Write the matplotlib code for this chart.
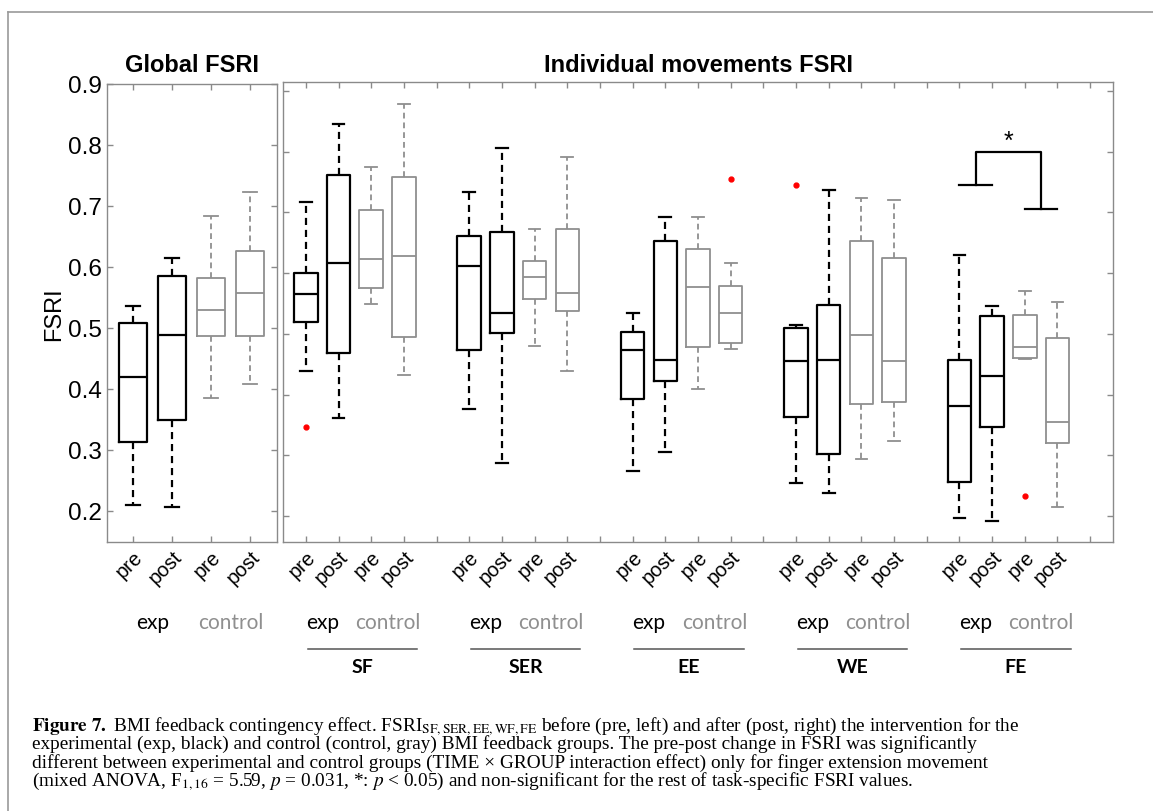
import matplotlib
matplotlib.use("Agg")
import matplotlib.pyplot as plt
from matplotlib.lines import Line2D
from matplotlib.transforms import blended_transform_factory

# Data (order inside a group: exp pre, exp post, control pre, control post)
global_lo = [0.210, 0.207, 0.385, 0.408]
global_q1 = [0.313, 0.349, 0.487, 0.487]
global_med = [0.420, 0.489, 0.530, 0.557]
global_q3 = [0.508, 0.585, 0.582, 0.626]
global_hi = [0.536, 0.615, 0.684, 0.723]

movements = ["SF", "SER", "EE", "WE", "FE"]
mov_lo = [0.439, 0.361, 0.549, 0.432,
          0.376, 0.287, 0.480, 0.439,
          0.274, 0.305, 0.409, 0.475,
          0.254, 0.238, 0.294, 0.323,
          0.197, 0.192, 0.458, 0.215]
mov_q1 = [0.519, 0.468, 0.575, 0.495,
          0.473, 0.501, 0.557, 0.538,
          0.393, 0.422, 0.478, 0.485,
          0.363, 0.302, 0.384, 0.388,
          0.256, 0.346, 0.460, 0.320]
mov_med = [0.566, 0.617, 0.623, 0.628,
           0.612, 0.534, 0.594, 0.567,
           0.473, 0.457, 0.577, 0.534,
           0.455, 0.457, 0.498, 0.455,
           0.381, 0.430, 0.478, 0.355]
mov_q3 = [0.600, 0.762, 0.704, 0.758,
          0.661, 0.668, 0.620, 0.673,
          0.503, 0.653, 0.640, 0.579,
          0.510, 0.547, 0.653, 0.625,
          0.457, 0.529, 0.531, 0.493]
mov_hi = [0.717, 0.846, 0.775, 0.879,
          0.734, 0.806, 0.673, 0.791,
          0.534, 0.692, 0.692, 0.617,
          0.514, 0.737, 0.724, 0.720,
          0.630, 0.546, 0.571, 0.552]
# outliers: (box index, value)
mov_outliers = [(0, 0.346), (11, 0.755), (12, 0.745), (18, 0.233)]

# significance bracket for FE: (left cap y, right cap y, top y)
sig_left, sig_right, sig_top = 0.745, 0.706, 0.800

tick_names = ["pre", "post", "pre", "post"]
group_names = ["exp", "control"]

caption_lines = [
    r"$\mathbf{Figure\ 7.}$ BMI feedback contingency effect. FSRI$_{\mathrm{SF,SER,EE,WF,FE}}$ before (pre, left) and after (post, right) the intervention for the",
    "experimental (exp, black) and control (control, gray) BMI feedback groups. The pre-post change in FSRI was significantly",
    "different between experimental and control groups (TIME \u00d7 GROUP interaction effect) only for finger extension movement",
    r"(mixed ANOVA, F$_{1,16}$ = 5.59, $p$ = 0.031, *: $p$ < 0.05) and non-significant for the rest of task-specific FSRI values.",
]

W, H = 1153, 812
EXP_COL = "black"
CTRL_COL = "#8f8f8f"
AX_COL = "#8a8a8a"
LABEL_FONT = ["Lato", "DejaVu Sans"]

plt.rcParams["font.family"] = ["Liberation Sans", "DejaVu Sans"]
plt.rcParams["mathtext.fontset"] = "stix"


def fy(px):
    return 1 - px / H


def make_stats(lo, q1, med, q3, hi, idx, outliers):
    stats = []
    for i in idx:
        fl = [v for (j, v) in outliers if j == i]
        stats.append(dict(whislo=lo[i], q1=q1[i], med=med[i], q3=q3[i],
                          whishi=hi[i], fliers=fl))
    return stats


def draw_boxes(ax, stats, pos, color, lw):
    ax.bxp(stats, positions=pos, widths=0.72, capwidths=0.36,
           showfliers=True, manage_ticks=False,
           boxprops=dict(color=color, linewidth=lw),
           whiskerprops=dict(color=color, linewidth=lw, linestyle=(0, (3.2, 2.2))),
           capprops=dict(color=color, linewidth=lw),
           medianprops=dict(color=color, linewidth=lw),
           flierprops=dict(marker="o", markerfacecolor="red", markeredgecolor="red",
                           markersize=3.5, linestyle="none"))


def style_axes(ax):
    for s in ax.spines.values():
        s.set_color(AX_COL)
        s.set_linewidth(1.0)
    ax.tick_params(direction="in", length=4, width=1.0, color=AX_COL,
                   top=True, right=True, labelsize=17.5)
    ax.set_yticks([0.2, 0.3, 0.4, 0.5, 0.6, 0.7, 0.8, 0.9])


def group_labels(fig, ax, centers):
    tr = blended_transform_factory(ax.transData, fig.transFigure)
    for c in centers:
        ax.text(c - 1.0, fy(623), group_names[0], transform=tr, ha="center", va="center",
                fontsize=15, color=EXP_COL, family=LABEL_FONT)
        ax.text(c + 1.0, fy(623), group_names[1], transform=tr, ha="center", va="center",
                fontsize=15, color=CTRL_COL, family=LABEL_FONT)


def main():
    fig = plt.figure(figsize=(W / 100, H / 100), dpi=100)

    # outer frame of the figure
    fig.add_artist(Line2D([8 / W, 1], [fy(13), fy(13)], color="#9a9a9a", lw=1.2))
    fig.add_artist(Line2D([8 / W, 8 / W], [fy(13), 0], color="#9a9a9a", lw=1.2))

    # ---- Global FSRI panel
    ax1 = fig.add_axes([107 / W, fy(543), 170 / W, 458 / H])
    draw_boxes(ax1, make_stats(global_lo, global_q1, global_med, global_q3, global_hi, [0, 1], []),
               [1, 2], EXP_COL, 1.6)
    draw_boxes(ax1, make_stats(global_lo, global_q1, global_med, global_q3, global_hi, [2, 3], []),
               [3, 4], CTRL_COL, 1.3)
    style_axes(ax1)
    ax1.set_xticks([1, 2, 3, 4])
    ax1.set_xticklabels(tick_names, rotation=45, ha="right", rotation_mode="anchor", fontsize=14.5)
    ax1.set_ylabel("FSRI", fontsize=17, labelpad=2)
    ax1.text(0.5, fy(66), "Global FSRI", transform=blended_transform_factory(ax1.transAxes, fig.transFigure),
             ha="center", va="center", fontsize=17, fontweight="bold")
    group_labels(fig, ax1, [2.5])
    ax1.set_xlim(0.33, 4.69)
    ax1.set_ylim(0.149, 0.9)

    # ---- Individual movements panel
    ax2 = fig.add_axes([283 / W, fy(543), 830 / W, 460 / H])
    exp_pos = [5 * g + k + 1 for g in range(5) for k in (0, 1)]
    ctrl_pos = [5 * g + k + 1 for g in range(5) for k in (2, 3)]
    exp_i = [4 * g + k for g in range(5) for k in (0, 1)]
    ctrl_i = [4 * g + k for g in range(5) for k in (2, 3)]
    draw_boxes(ax2, make_stats(mov_lo, mov_q1, mov_med, mov_q3, mov_hi, exp_i, mov_outliers),
               exp_pos, EXP_COL, 1.6)
    draw_boxes(ax2, make_stats(mov_lo, mov_q1, mov_med, mov_q3, mov_hi, ctrl_i, mov_outliers),
               ctrl_pos, CTRL_COL, 1.3)
    style_axes(ax2)
    ax2.set_xticks(range(1, 26))
    ax2.set_xticklabels((tick_names + [""]) * 5, rotation=45, ha="right",
                        rotation_mode="anchor", fontsize=14.5)
    ax2.set_yticklabels([])
    ax2.text(0.5, fy(66), "Individual movements FSRI",
             transform=blended_transform_factory(ax2.transAxes, fig.transFigure),
             ha="center", va="center", fontsize=17, fontweight="bold")

    # significance bracket (FE exp vs control)
    bk = dict(color="black", lw=1.6, clip_on=False)
    ax2.plot([21, 22], [sig_left, sig_left], **bk)
    ax2.plot([21.5, 21.5, 23.5, 23.5], [sig_left, sig_top, sig_top, sig_right], **bk)
    ax2.plot([23, 24], [sig_right, sig_right], **bk)
    ax2.text(22.5, sig_top + 0.018, "*", ha="center", va="center", fontsize=18)

    centers = [5 * g + 2.5 for g in range(5)]
    group_labels(fig, ax2, centers)
    tr = blended_transform_factory(ax2.transData, fig.transFigure)
    for c, name in zip(centers, movements):
        ax2.plot([c - 1.45, c + 1.9], [fy(650), fy(650)], color="#555555", lw=1.1,
                 transform=tr, clip_on=False)
        ax2.text(c + 0.22, fy(668), name, transform=tr, ha="center", va="center",
                 fontsize=14, fontweight="bold", family=LABEL_FONT)
    ax2.set_xlim(0.3, 25.7)
    ax2.set_ylim(0.157, 0.915)

    # caption
    for i, line in enumerate(caption_lines):
        fig.text(32 / W, fy(731 + 18.4 * i), line, ha="left", va="baseline",
                 fontsize=13.85, family=["Liberation Serif", "DejaVu Serif"])

    fig.savefig("out.png", dpi=100)


if __name__ == "__main__":
    main()
